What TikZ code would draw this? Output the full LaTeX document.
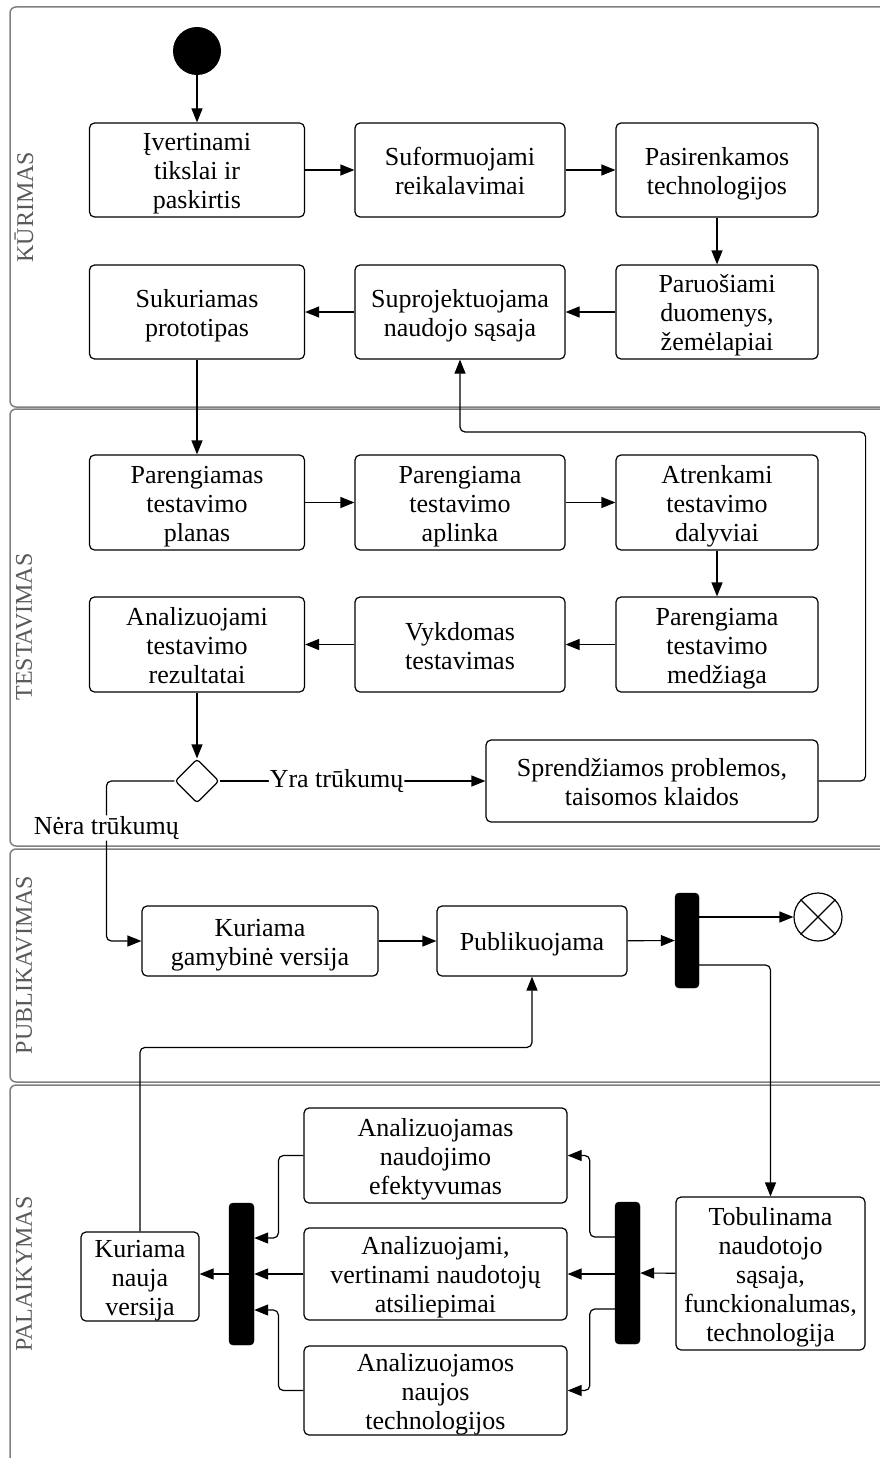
\documentclass[tikz,border=0pt]{standalone}
\usepackage{fontspec}
\setmainfont{Liberation Serif}
\usetikzlibrary{arrows.meta,shapes.geometric,calc}
% activity text with fixed first-line height and last-line depth
\newcommand{\acttext}[1]{\rule{0pt}{25pt}#1\rule[-5pt]{0pt}{5pt}}

\begin{document}
\begin{tikzpicture}[x=1pt,y=-1pt,
  lane/.style={draw=black!50, line width=1.5pt, rounded corners=6pt},
  lanelabel/.style={rotate=90, text=black!65, font=\fontsize{24}{28}\selectfont, inner sep=0pt},
  act/.style={draw, line width=1.2pt, rounded corners=5pt, align=center,
    font=\fontsize{26}{29}\selectfont, inner sep=0pt},
  wh/.style n args={2}{minimum width=#1pt, minimum height=#2pt},
  bar/.style={fill=black, draw=black, rounded corners=4pt, inner sep=0pt},
  flow/.style={line width=1.2pt, rounded corners=5pt, -{Triangle[length=14pt,width=11pt]}},
  lbl/.style={fill=white, font=\fontsize{26}{29}\selectfont, inner sep=1pt},
]
\useasboundingbox (0,0) rectangle (880,1458);

% swimlanes
\draw[lane] (10,7) rectangle (900,407);
\draw[lane] (10,409) rectangle (900,846);
\draw[lane] (10,849) rectangle (900,1082);
\draw[lane] (10,1085) rectangle (900,1480);
\node[lanelabel] (L1) at (24,207) {KŪRIMAS};
\node[lanelabel] (L2) at (24,627) {TESTAVIMAS};
\node[lanelabel] (L3) at (24,965) {PUBLIKAVIMAS};
\node[lanelabel] (L4) at (24,1274) {PALAIKYMAS};

% KŪRIMAS
\node[circle, fill=black, minimum size=48pt, inner sep=0pt] (start) at (197,51) {};
\node[act, wh={215}{94}] (A1) at (197,170) {\acttext{Įvertinami\\tikslai ir\\paskirtis}};
\node[act, wh={210}{94}] (A2) at (460,170) {\acttext{Suformuojami\\reikalavimai}};
\node[act, wh={202}{94}] (A3) at (717,170) {\acttext{Pasirenkamos\\technologijos}};
\node[act, wh={215}{94}] (B1) at (197,312) {\acttext{Sukuriamas\\prototipas}};
\node[act, wh={210}{94}] (B2) at (460,312) {\acttext{Suprojektuojama\\naudojo sąsaja}};
\node[act, wh={202}{94}] (B3) at (717,312) {\acttext{Paruošiami\\duomenys,\\žemėlapiai}};

% TESTAVIMAS
\node[act, wh={215}{95}] (C1) at (197,502.5) {\acttext{Parengiamas\\testavimo\\planas}};
\node[act, wh={210}{95}] (C2) at (460,502.5) {\acttext{Parengiama\\testavimo\\aplinka}};
\node[act, wh={202}{95}] (C3) at (717,502.5) {\acttext{Atrenkami\\testavimo\\dalyviai}};
\node[act, wh={215}{95}] (D1) at (197,644.5) {\acttext{Analizuojami\\testavimo\\rezultatai}};
\node[act, wh={210}{95}] (D2) at (460,644.5) {\acttext{Vykdomas\\testavimas}};
\node[act, wh={202}{95}] (D3) at (717,644.5) {\acttext{Parengiama\\testavimo\\medžiaga}};
\node[diamond, draw, line width=1.2pt, rounded corners=3pt, aspect=1,
  minimum size=44pt, inner sep=0pt] (dec) at (197,781) {};
\node[act, wh={332}{82}] (E) at (652,781) {\acttext{Sprendžiamos problemos,\\taisomos klaidos}};

% PUBLIKAVIMAS
\node[act, wh={236}{70}] (F1) at (260,941) {\acttext{Kuriama\\gamybinė versija}};
\node[act, wh={190}{70}] (F2) at (532,941) {\acttext{Publikuojama}};
\node[bar, wh={24}{95}] (bar1) at (687,940.5) {};
\node[circle, draw, line width=1.2pt, minimum size=48pt, inner sep=0pt] (endc) at (818,917) {};
\draw[line width=1.2pt] (endc.north east) -- (endc.south west)
  (endc.north west) -- (endc.south east);

% PALAIKYMAS
\node[act, wh={189}{153}] (G) at (770.5,1273.5) {\acttext{Tobulinama\\naudotojo\\sąsaja,\\funckionalumas,\\technologija}};
\node[bar, wh={25}{142}] (bar2) at (627.5,1273) {};
\node[act, wh={263}{95}] (H1) at (435.5,1155.5) {\acttext{Analizuojamas\\naudojimo\\efektyvumas}};
\node[act, wh={263}{92}] (H2) at (435.5,1274) {\acttext{Analizuojami,\\vertinami naudotojų\\atsiliepimai}};
\node[act, wh={263}{89}] (H3) at (435.5,1390.5) {\acttext{Analizuojamos\\naujos\\technologijos}};
\node[bar, wh={25}{142}] (bar3) at (241.5,1274) {};
\node[act, wh={118}{89}] (I) at (140,1276.5) {\acttext{Kuriama\\nauja\\versija}};

% flows
\draw[flow] (start) -- (A1);
\draw[flow] (A1) -- (A2);
\draw[flow] (A2) -- (A3);
\draw[flow] (A3) -- (B3);
\draw[flow] (B3) -- (B2);
\draw[flow] (B2) -- (B1);
\draw[flow] (B1) -- (C1);
\draw[flow] (C1) -- (C2);
\draw[flow] (C2) -- (C3);
\draw[flow] (C3) -- (D3);
\draw[flow] (D3) -- (D2);
\draw[flow] (D2) -- (D1);
\draw[flow] (D1) -- (dec);
\draw[flow] (dec.east) -- node[lbl, pos=0.44] (yra) {Yra trūkumų} (E.west);
\draw[flow] (E.east) -- ++(47,0) -- ++(0,-349) -| (B2.south);
\draw[flow] (dec.west) -- ++(-68,0) -- ++(0,47) node[lbl] (nera) {Nėra trūkumų} |- (F1.west);
\draw[flow] (F1) -- (F2);
\draw[flow] (F2) -- (bar1);
\draw[flow] ([yshift=23.5pt]bar1.east) -- (endc);
\draw[flow] ([yshift=-24.5pt]bar1.east) -| (G.north);
\draw[flow] (G) -- (bar2);
\draw[flow] ([yshift=36pt]bar2.west) -- ++(-25,0) |- (H1.east);
\draw[flow] (bar2.west |- H2.east) -- (H2.east);
\draw[flow] ([yshift=-36pt]bar2.west) -- ++(-25,0) |- (H3.east);
\draw[flow] (H1.west) -- ++(-25,0) |- ([yshift=36pt]bar3.east);
\draw[flow] (H2.west) -- (bar3.east |- H2.west);
\draw[flow] (H3.west) -- ++(-25,0) |- ([yshift=-36pt]bar3.east);
\draw[flow] (bar3.west) -- (I.east |- bar3.west);
\draw[flow] (I.north) -- ++(0,-184) -| (F2.south);
\end{tikzpicture}
\end{document}
